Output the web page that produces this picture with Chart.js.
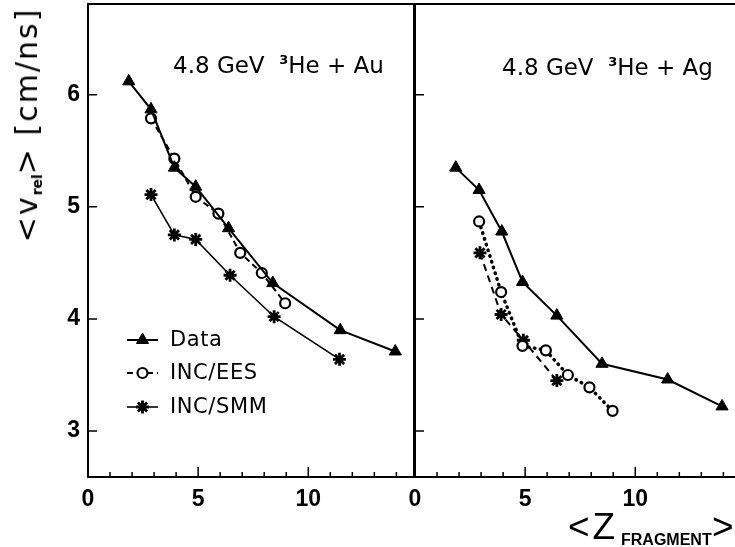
<!DOCTYPE html>
<html>
<head>
<meta charset="utf-8">
<script src="https://cdn.jsdelivr.net/npm/chart.js@4.4.1/dist/chart.umd.min.js"></script>
<style>
  html, body { margin: 0; padding: 0; background: #fff; overflow: hidden; width: 735px; height: 547px; position: relative; }
  canvas { position: absolute; top: 0; }
  #auChart { left: 0; }
  #agChart { left: 327px; }
  .txt { position: absolute; font-family: "DejaVu Sans", sans-serif; color: #000; white-space: nowrap; line-height: 1; }
  .panel { font-size: 23px; }
  .panel sup { font-size: 13px; font-weight: bold; vertical-align: 9px; }
  .leg { font-size: 21px; letter-spacing: 0.6px; left: 170px; }
  #ytitle { left: 28px; top: 125px; font-size: 30px; letter-spacing: 2px; transform: translate(-50%, -50%) rotate(-90deg); }
  #ytitle sub { font-size: 14px; font-weight: bold; vertical-align: -5px; letter-spacing: 0; }
  .xt { font-family: "Liberation Sans", sans-serif; }
</style>
</head>
<body>
<canvas id="auChart" width="414" height="547"></canvas>
<canvas id="agChart" width="414" height="547"></canvas>

<div class="txt" id="ytitle">&lt;v<sub>rel</sub>&gt; [cm/ns]</div>
<div class="txt panel" style="left:173px; top:53px;">4.8 GeV&nbsp; <sup>3</sup>He + Au</div>
<div class="txt panel" style="left:502px; top:55px;">4.8 GeV&nbsp; <sup>3</sup>He + Ag</div>
<div id="legendText"></div>
<div class="txt xt" style="left:568px; top:508px; font-size:37px; letter-spacing:3px;">&lt;Z</div>
<div class="txt xt" style="left:621px; top:532px; font-size:16px; font-weight:bold;">FRAGMENT</div>
<div class="txt xt" style="left:712px; top:508px; font-size:37px;">&gt;</div>

<script>
// axis ticks
const xTickValues = [0, 5, 10];
const yTickValues = [3, 4, 5, 6];

const seriesNames = ['Data', 'INC/EES', 'INC/SMM'];

// 4.8 GeV 3He + Au
const auDataZ = [1.85, 2.86, 3.92, 4.89, 6.38, 8.39, 11.45, 13.95];
const auDataV = [6.12, 5.87, 5.35, 5.18, 4.81, 4.32, 3.90, 3.71];
const auEesZ  = [2.86, 3.92, 4.89, 5.92, 6.91, 7.89, 8.95];
const auEesV  = [5.79, 5.43, 5.09, 4.94, 4.59, 4.41, 4.14];
const auSmmZ  = [2.86, 3.92, 4.89, 6.45, 8.45, 11.42];
const auSmmV  = [5.11, 4.75, 4.71, 4.39, 4.02, 3.64];

// 4.8 GeV 3He + Ag
const agDataZ = [1.85, 2.91, 3.94, 4.88, 6.44, 8.49, 11.47, 13.94];
const agDataV = [5.35, 5.15, 4.78, 4.33, 4.03, 3.60, 3.46, 3.22];
const agEesZ  = [2.91, 3.91, 4.88, 5.94, 6.94, 7.92, 8.97];
const agEesV  = [4.87, 4.24, 3.76, 3.72, 3.50, 3.39, 3.18];
const agSmmZ  = [2.95, 3.91, 4.92, 6.44];
const agSmmV  = [4.59, 4.04, 3.81, 3.45];

const pairs = (xs, ys) => xs.map((x, i) => ({ x: x, y: ys[i] }));

function triangleSet(xs, ys) {
    return {
        label: seriesNames[0], data: pairs(xs, ys),
        borderColor: '#000', borderWidth: 2, tension: 0,
        pointStyle: 'triangle', pointRadius: 7, pointBackgroundColor: '#000',
        pointBorderColor: '#000', pointBorderWidth: 1
    };
}
function circleSet(xs, ys, dash, width, cap) {
    return {
        label: seriesNames[1], data: pairs(xs, ys),
        borderColor: '#000', borderWidth: width, borderDash: dash, borderCapStyle: cap, tension: 0,
        pointStyle: 'circle', pointRadius: 5, pointBackgroundColor: '#fff',
        pointBorderColor: '#000', pointBorderWidth: 2.2
    };
}
function starSet(xs, ys, dash, width) {
    return {
        label: seriesNames[2], data: pairs(xs, ys),
        borderColor: '#000', borderWidth: width, borderDash: dash, tension: 0,
        pointStyle: 'star', pointRadius: 6.5, pointBackgroundColor: '#000',
        pointBorderColor: '#000', pointBorderWidth: 2.8
    };
}

// frame + inward tick marks
const framePlugin = {
    id: 'frame',
    afterDraw(chart) {
        const { ctx, chartArea: a, scales: { x, y } } = chart;
        ctx.save();
        ctx.strokeStyle = '#000';
        ctx.lineWidth = 2;
        ctx.strokeRect(a.left, a.top, a.right - a.left, a.bottom - a.top);
        ctx.lineWidth = 1.5;
        ctx.beginPath();
        for (let v = 0; v <= 14; v++) {
            const px = x.getPixelForValue(v);
            const len = v % 5 === 0 ? 10 : 5;
            ctx.moveTo(px, a.bottom);
            ctx.lineTo(px, a.bottom - len);
        }
        yTickValues.forEach(v => {
            const py = y.getPixelForValue(v);
            ctx.moveTo(a.left, py);
            ctx.lineTo(a.left + 9, py);
        });
        ctx.stroke();
        ctx.restore();
    }
};

// legend symbols inside the left panel
const legendBox = { x1: 127, x2: 158, rows: [340, 373, 407] };
const legendPlugin = {
    id: 'miniLegend',
    afterDraw(chart) {
        const ctx = chart.ctx;
        chart.data.datasets.forEach((ds, i) => {
            const yy = legendBox.rows[i];
            const xm = (legendBox.x1 + legendBox.x2) / 2;
            ctx.save();
            ctx.strokeStyle = '#000';
            ctx.lineWidth = ds.borderWidth;
            ctx.setLineDash(ds.borderDash || []);
            ctx.beginPath();
            ctx.moveTo(legendBox.x1, yy);
            ctx.lineTo(legendBox.x2, yy);
            ctx.stroke();
            ctx.setLineDash([]);
            ctx.fillStyle = ds.pointBackgroundColor;
            ctx.strokeStyle = ds.pointBorderColor;
            ctx.lineWidth = ds.pointBorderWidth;
            Chart.helpers.drawPoint(ctx, {
                pointStyle: ds.pointStyle, radius: ds.pointRadius,
                rotation: 0, borderWidth: ds.pointBorderWidth
            }, xm, yy);
            ctx.restore();
        });
    }
};

function noEdgePadding(s) {
    s.paddingTop = 0; s.paddingBottom = 0; s.paddingLeft = 0; s.paddingRight = 0;
}

function drawPanel(canvasId, datasets, showYLabels, extraPlugins) {
    const tickFont = { family: '"Liberation Sans", Arial, sans-serif', size: 23, weight: 'bold' };
    return new Chart(document.getElementById(canvasId), {
        type: 'line',
        data: { datasets: datasets },
        options: {
            responsive: false,
            animation: false,
            devicePixelRatio: 1,
            layout: { autoPadding: false, padding: { top: 4, right: 0, left: 0, bottom: 0 } },
            plugins: { legend: { display: false }, tooltip: { enabled: false } },
            scales: {
                x: {
                    type: 'linear', min: 0, max: 14.8,
                    grid: { display: false, drawTicks: false },
                    border: { display: false },
                    afterBuildTicks: s => { s.ticks = xTickValues.map(v => ({ value: v })); },
                    afterFit: s => { s.height = 70; noEdgePadding(s); },
                    ticks: { color: '#000', font: tickFont, padding: 9, maxRotation: 0, autoSkip: false }
                },
                y: {
                    type: 'linear', min: 2.59, max: 6.81,
                    grid: { display: false, drawTicks: false },
                    border: { display: false },
                    afterBuildTicks: s => { s.ticks = yTickValues.map(v => ({ value: v })); },
                    afterFit: s => { s.width = 88; noEdgePadding(s); },
                    ticks: { display: showYLabels, color: '#000', font: tickFont, padding: 8 }
                }
            }
        },
        plugins: [framePlugin].concat(extraPlugins)
    });
}

drawPanel('auChart', [
    triangleSet(auDataZ, auDataV),
    circleSet(auEesZ, auEesV, [6, 4], 2, 'butt'),
    starSet(auSmmZ, auSmmV, [], 1.6)
], true, [legendPlugin]);

drawPanel('agChart', [
    triangleSet(agDataZ, agDataV),
    circleSet(agEesZ, agEesV, [0.5, 5.5], 3.5, 'round'),
    starSet(agSmmZ, agSmmV, [7, 5], 2)
], false, []);

// legend labels
const legendRoot = document.getElementById('legendText');
seriesNames.forEach((name, i) => {
    const d = document.createElement('div');
    d.className = 'txt leg';
    d.style.top = (legendBox.rows[i] - 11) + 'px';
    d.textContent = name;
    legendRoot.appendChild(d);
});
</script>
</body>
</html>
